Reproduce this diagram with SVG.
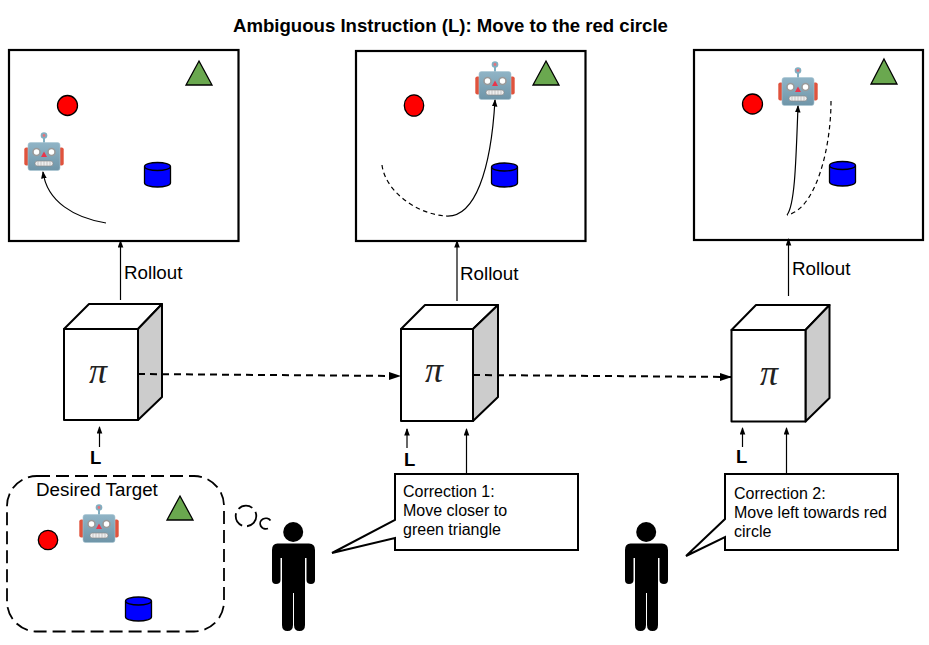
<svg xmlns="http://www.w3.org/2000/svg" xmlns:xlink="http://www.w3.org/1999/xlink" width="929" height="645" viewBox="0 0 929 645">
<style>
text{font-family:"Liberation Sans",Arial,sans-serif;fill:#000}
.title{font-size:18.600px;font-weight:bold}
.t{font-size:16px}
.r{font-size:18.800px}
.b{font-size:18.500px;font-weight:bold}
.panel{fill:#fff;stroke:#000;stroke-width:2.200}
.tri{fill:#6aa84f;stroke:#000;stroke-width:1.300}
.c{fill:#f00;stroke:#000;stroke-width:1.300}
.cyl{fill:#00f;stroke:#000;stroke-width:1.300}
.line{fill:none;stroke:#000;stroke-width:1.200}
.dash{fill:none;stroke:#000;stroke-width:1.200;stroke-dasharray:4.500 3.500}
.big{fill:none;stroke:#000;stroke-width:2;stroke-dasharray:7 5}
.face{fill:#fff;stroke:#000;stroke-width:2;stroke-linejoin:round}
.side{fill:#ccc;stroke:#000;stroke-width:2;stroke-linejoin:round}
.pi{font-family:"Liberation Serif",serif;font-style:italic;font-size:36px;fill:#222}
.call{fill:#fff;stroke:#000;stroke-width:2}
</style>
<defs>
<marker id="a" markerWidth="8" markerHeight="8" refX="6.500" refY="3" orient="auto" markerUnits="userSpaceOnUse"><path d="M0 0.200L7.500 3L0 5.800Z" fill="#000"/></marker>
<marker id="A" markerWidth="14" markerHeight="12" refX="11" refY="5" orient="auto" markerUnits="userSpaceOnUse"><path d="M0 1L12 5L0 9Z" fill="#000"/></marker>
<linearGradient id="rb" x1="0" y1="0" x2="0" y2="1"><stop offset="0" stop-color="#90b4c6"/><stop offset="1" stop-color="#6f95a8"/></linearGradient>
<symbol id="robot" viewBox="0 0 40 40" overflow="visible">
<rect x="0.300" y="15.500" width="5" height="18" rx="2" fill="#e0533d"/>
<rect x="34.700" y="15.500" width="5" height="18" rx="2" fill="#e0533d"/>
<rect x="19" y="3" width="2" height="9" fill="#82aec0"/>
<circle cx="20" cy="3.500" r="3.300" fill="#82aec0"/>
<circle cx="20" cy="3.500" r="1.400" fill="#e5737a"/>
<rect x="4" y="10.500" width="32" height="28" rx="2.500" fill="url(#rb)" stroke="#a9c6d4" stroke-width=".6"/>
<circle cx="12.500" cy="20" r="3.500" fill="#fff" stroke="#999" stroke-width="1.600"/>
<circle cx="27.500" cy="20" r="3.500" fill="#fff" stroke="#999" stroke-width="1.600"/>
<path d="M20 19.500L23 25H17Z" fill="#e8364c"/>
<rect x="11" y="29" width="18" height="5" rx="2.300" fill="#eee" stroke="#888" stroke-width=".7"/>
<path d="M14 29v5M17 29v5M20 29v5M23 29v5M26 29v5" stroke="#aaa" stroke-width=".6"/>
</symbol>
<symbol id="person" viewBox="0 0 44 110" overflow="visible">
<circle cx="21.700" cy="10" r="10" fill="#000"/>
<path d="M6 21.500H37.500Q43.500 21.500 43.500 28V58Q43.500 62 39.500 62Q35 62 35 58V36H33.500V103Q33.500 109 28 109Q22.500 109 22.500 103V71H21.500V103Q21.500 109 16 109Q10.500 109 10.500 103V36H9V58Q9 62 4.500 62Q0.500 62 0.500 58V28Q0.500 21.500 6 21.500Z" fill="#000"/>
</symbol>
</defs>
<text x="450.500" y="32" text-anchor="middle" class="title">Ambiguous Instruction (L): Move to the red circle</text>

<g id="panel1">
<rect class="panel" x="9" y="50" width="229.500" height="191"/>
<path class="tri" d="M199 61L212 85H186Z"/>
<circle class="c" cx="67.500" cy="105.500" r="10"/>
<use xlink:href="#robot" href="#robot" x="24" y="132" width="40" height="40"/>
<path class="cyl" d="M144.500 166.500V183A13 4 0 0 0 170.500 183V166.500A13 4 0 0 0 144.500 166.500A13 4 0 0 0 170.500 166.500"/>
</g>
<g id="panel2">
<rect class="panel" x="356" y="51" width="229.500" height="190"/>
<path class="tri" d="M546 61L559 85H533Z"/>
<ellipse class="c" cx="414" cy="105.500" rx="9.700" ry="10.700"/>
<use xlink:href="#robot" href="#robot" x="475" y="61" width="40" height="40"/>
<path class="cyl" d="M491.500 167V183A13 4 0 0 0 517.500 183V167A13 4 0 0 0 491.500 167A13 4 0 0 0 517.500 167"/>
</g>
<g id="panel3">
<rect class="panel" x="694" y="50" width="229" height="190"/>
<path class="tri" d="M884 59L897 84H871Z"/>
<circle class="c" cx="752.500" cy="104" r="10"/>
<use xlink:href="#robot" href="#robot" x="778" y="67" width="40" height="40"/>
<path class="cyl" d="M829.500 165.500V182A13 4 0 0 0 855.500 182V165.500A13 4 0 0 0 829.500 165.500A13 4 0 0 0 855.500 165.500"/>
</g>
<g id="cube1"><path class="face" d="M64 329L89 304H162L138 329Z"/><path class="side" d="M138 329L162 304V397L138 420Z"/><rect class="face" x="64" y="329" width="74" height="91"/><text class="pi" x="98" y="383" text-anchor="middle">π</text></g>
<g id="cube2"><path class="face" d="M401 329L425 305H498L473 329Z"/><path class="side" d="M473 329L498 305V397L473 421Z"/><rect class="face" x="401" y="329" width="72" height="92"/><text class="pi" x="434" y="382" text-anchor="middle">π</text></g>
<g id="cube3"><path class="face" d="M731.500 330L756 305H829.500L805.500 330Z"/><path class="side" d="M805.500 330L829.500 305V398L805.500 421.500Z"/><rect class="face" x="731.500" y="330" width="74" height="91.500"/><text class="pi" x="769" y="385" text-anchor="middle">π</text></g>

<g id="connectors">
<path class="line" d="M106 223C75 218 47 202 43 172" marker-end="url(#a)"/>
<path class="dash" d="M382 165C385 190 415 214 446 216"/>
<path class="line" d="M446 216C475 218 491 170 495 100" marker-end="url(#a)"/>
<path class="line" d="M787 215C795 205 796 160 798 106" marker-end="url(#a)"/>
<path class="dash" d="M831 101C831 150 815 210 787 215"/>
<path class="line" d="M120.500 300V241" marker-end="url(#a)"/>
<path class="line" d="M457 301V241" marker-end="url(#a)"/>
<path class="line" d="M788.500 296V239" marker-end="url(#a)"/>
<path class="big" d="M138 374L400 376" marker-end="url(#A)"/>
<path class="big" d="M473 375L731 377" marker-end="url(#A)"/>
<path class="line" d="M99.500 447V427" marker-end="url(#a)"/>
<path class="line" d="M407 448V429" marker-end="url(#a)"/>
<path class="line" d="M742.500 447V428" marker-end="url(#a)"/>
<path class="line" d="M466.500 474V429" marker-end="url(#a)"/>
<path class="line" d="M786.500 474V428" marker-end="url(#a)"/>
</g>
<g id="labels">
<text class="r" x="124" y="279">Rollout</text>
<text class="r" x="460" y="280">Rollout</text>
<text class="r" x="792" y="275">Rollout</text>
<text class="b" x="90" y="464">L</text>
<text class="b" x="404" y="466">L</text>
<text class="b" x="736" y="463">L</text>
</g>
<g id="target">
<rect x="7" y="476" width="217" height="155.500" rx="30" fill="none" stroke="#000" stroke-width="1.800" stroke-dasharray="13 6"/>
<text class="r" x="36" y="496">Desired Target</text>
<path class="tri" d="M180 496L193 520H167Z"/>
<circle class="c" cx="48" cy="540" r="9.700"/>
<use xlink:href="#robot" href="#robot" x="79" y="504" width="40" height="40"/>
<path class="cyl" d="M125.500 601V617A13 4 0 0 0 151.500 617V601A13 4 0 0 0 125.500 601A13 4 0 0 0 151.500 601"/>
</g>
<g id="thought">
<circle cx="246" cy="516" r="10.300" fill="none" stroke="#000" stroke-width="1.800" stroke-dasharray="15 5"/>
<path d="M270.500 520.500A5.700 5.300 0 1 0 268 528.500" fill="none" stroke="#000" stroke-width="1.800"/>
</g>
<g id="person1"><use xlink:href="#person" href="#person" x="271.500" y="522" width="44" height="110"/></g>
<g id="person2"><use xlink:href="#person" href="#person" x="624.500" y="522" width="44" height="110"/></g>
<g id="callout1">
<path class="call" d="M395 474H578V550H395V538L332 553L395 520Z"/>
<text class="t"><tspan x="403" y="497">Correction 1:</tspan><tspan x="403" y="516">Move closer to</tspan><tspan x="403" y="535">green triangle</tspan></text>
</g>
<g id="callout2">
<path class="call" d="M725 474H898V550H725V537L686 556L725 519Z"/>
<text class="t"><tspan x="734" y="499">Correction 2:</tspan><tspan x="734" y="518">Move left towards red</tspan><tspan x="734" y="537">circle</tspan></text>
</g>
</svg>
